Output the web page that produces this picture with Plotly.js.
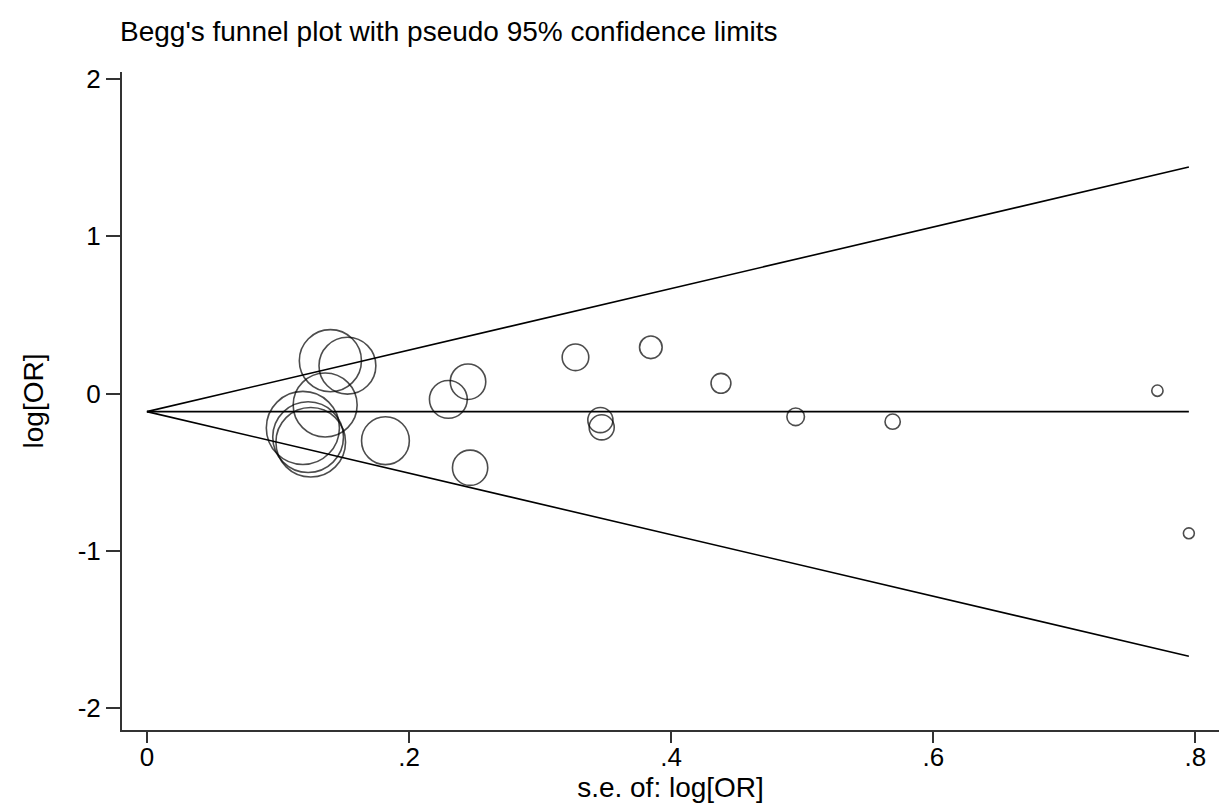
<!DOCTYPE html>
<html>
<head>
<meta charset="utf-8">
<script src="https://cdn.plot.ly/plotly-3.0.1.min.js"></script>
<style>html,body{margin:0;padding:0;background:#fff;}#chart{width:1224px;height:803px;}</style>
</head>
<body>
<div id="chart"></div>
<script>
// Study data
var seLogOR = [0.795, 0.771, 0.569, 0.495, 0.438, 0.3845, 0.327, 0.346, 0.347, 0.245, 0.230, 0.2466, 0.182, 0.140, 0.153, 0.136, 0.119, 0.123, 0.125];
var logOR   = [-0.889, 0.018, -0.179, -0.148, 0.065, 0.294, 0.230, -0.169, -0.215, 0.075, -0.037, -0.472, -0.300, 0.209, 0.177, -0.073, -0.219, -0.277, -0.310];

// Pooled estimate and pseudo 95% limits (end points)
var limitSE    = [0, 0.795];
var pooledLine = [-0.115, -0.115];
var upperLimit = [-0.115, 1.441];
var lowerLimit = [-0.115, -1.671];

var xTickVals = [0, 0.2, 0.4, 0.6, 0.8];
var xTickText = ['0', '.2', '.4', '.6', '.8'];
var yTickVals = [-2, -1, 0, 1, 2];
var yTickText = ['-2', '-1', '0', '1', '2'];

// marker size proportional to 1/se (study weight)
var sizes = seLogOR.map(function (s) { return 8.7 / s; });

var lineStyle = {color: '#000', width: 1.6};
var traces = [
  {x: limitSE, y: upperLimit, mode: 'lines', line: lineStyle, hoverinfo: 'skip'},
  {x: limitSE, y: pooledLine, mode: 'lines', line: lineStyle, hoverinfo: 'skip'},
  {x: limitSE, y: lowerLimit, mode: 'lines', line: lineStyle, hoverinfo: 'skip'},
  {x: seLogOR, y: logOR, mode: 'markers',
   marker: {symbol: 'circle-open', size: sizes, color: '#000', line: {width: 1.6, color: '#000'}}}
];

var fam = 'Liberation Sans, Arial, sans-serif';
var layout = {
  width: 1224, height: 803,
  paper_bgcolor: '#fff', plot_bgcolor: '#fff',
  showlegend: false,
  font: {family: fam, color: '#000', size: 26},
  margin: {l: 122, r: 5, t: 72, b: 73, pad: 0},
  title: {text: "Begg's funnel plot with pseudo 95% confidence limits",
          font: {family: fam, size: 28, color: '#000'},
          x: 120 / 1224, xanchor: 'left', xref: 'container',
          y: 1 - 31 / 803, yanchor: 'middle', yref: 'container'},
  xaxis: {range: [-0.019, 0.818], showgrid: false, zeroline: false,
          showline: true, linecolor: '#333', linewidth: 2,
          ticks: 'outside', ticklen: 11, tickwidth: 2, tickcolor: '#333',
          ticklabelstandoff: -8,
          tickvals: xTickVals, ticktext: xTickText, tickfont: {size: 26},
          title: {text: 's.e. of: log[OR]', font: {size: 28}, standoff: 6}},
  yaxis: {range: [-2.14, 2.045], showgrid: false, zeroline: false,
          showline: true, linecolor: '#333', linewidth: 2,
          ticks: 'outside', ticklen: 14, tickwidth: 2, tickcolor: '#333',
          tickvals: yTickVals, ticktext: yTickText, tickfont: {size: 26},
          title: {text: 'log[OR]', font: {size: 28}, standoff: 26}}
};

Plotly.newPlot('chart', traces, layout, {staticPlot: true, displayModeBar: false});
</script>
</body>
</html>
